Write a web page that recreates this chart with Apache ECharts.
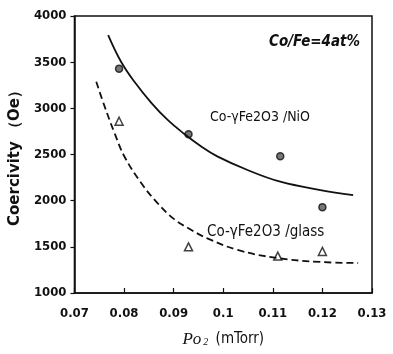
<!DOCTYPE html>
<html>
<head>
<meta charset="utf-8">
<script src="https://cdn.jsdelivr.net/npm/echarts@6/dist/echarts.min.js"></script>
<style>
  html, body {margin: 0; padding: 0; background: #fff;}
  #chart {width: 393px; height: 354px;}
</style>
</head>
<body>
<div id="chart"></div>
<script>
// measured points
const nioX = [0.079, 0.093, 0.1115, 0.12];
const nioY = [3430, 2720, 2480, 1930];
const glassX = [0.079, 0.093, 0.111, 0.12];
const glassY = [2860, 1500, 1400, 1450];

// fitted curves
const nioFitX = [0.0768, 0.0794, 0.0821, 0.0855, 0.0888, 0.0921, 0.0955, 0.0988, 0.1049, 0.1115, 0.1196, 0.1262];
const nioFitY = [3794, 3505, 3288, 3060, 2874, 2725, 2590, 2480, 2332, 2205, 2115, 2061];
const glassFitX = [0.0744, 0.0761, 0.0781, 0.0801, 0.0835, 0.0868, 0.0901, 0.0935, 0.0968, 0.1029, 0.1109, 0.1196, 0.1272];
const glassFitY = [3288, 3018, 2730, 2476, 2188, 1971, 1800, 1685, 1592, 1466, 1379, 1336, 1325];

const xTicks = {min: 0.07, max: 0.13, interval: 0.01};
const yTicks = {min: 1000, max: 4000, interval: 500};

const zip = (xs, ys) => xs.map((x, i) => [x, ys[i]]);

const font = "'Liberation Sans Narrow', 'DejaVu Sans Condensed', 'Liberation Sans', sans-serif";
const chart = echarts.init(document.getElementById('chart'));

chart.setOption({
  animation: false,
  grid: {
    left: 73, right: 21, top: 16, bottom: 61,
    show: true,
    borderColor: '#111',
    borderWidth: 1.5,
  },
  xAxis: {
    type: 'value',
    ...xTicks,
    name: '{it|Po}{sub|2} {n|(mTorr)}',
    nameLocation: 'middle',
    nameGap: 38,
    nameTextStyle: {
      rich: {
        it: {fontFamily: "'Liberation Serif', serif", fontStyle: 'italic', fontSize: 17, color: '#111'},
        sub: {fontFamily: "'Liberation Serif', serif", fontStyle: 'italic', fontSize: 10, color: '#111', padding: [6, 4, 0, 2]},
        n: {fontFamily: font, fontSize: 15, color: '#111'},
      },
    },
    axisLine: {lineStyle: {color: '#111', width: 1.5}},
    axisTick: {inside: true, length: 5, lineStyle: {color: '#111', width: 1.2}},
    axisLabel: {color: '#111', fontFamily: font, fontWeight: 'bold', fontSize: 13, margin: 14},
    splitLine: {show: false},
  },
  yAxis: {
    type: 'value',
    ...yTicks,
    name: 'Coercivity （Oe）',
    nameLocation: 'middle',
    nameGap: 46,
    nameTextStyle: {color: '#111', fontFamily: 'DejaVu Sans, sans-serif', fontSize: 15, fontWeight: 'bold'},
    axisLine: {lineStyle: {color: '#111', width: 1.5}},
    axisTick: {length: 4, lineStyle: {color: '#111', width: 1.2}},
    axisLabel: {
      color: '#111', fontFamily: font, fontWeight: 'bold', fontSize: 13, margin: 8,
      formatter: (v) => String(v),
    },
    splitLine: {show: false},
  },
  series: [
    {
      name: 'NiO fit',
      type: 'line',
      smooth: 0.4,
      showSymbol: false,
      lineStyle: {color: '#111', width: 1.8},
      data: zip(nioFitX, nioFitY),
    },
    {
      name: 'glass fit',
      type: 'line',
      smooth: 0.4,
      showSymbol: false,
      lineStyle: {color: '#111', width: 1.8, type: [7, 4]},
      data: zip(glassFitX, glassFitY),
    },
    {
      name: 'Co-γFe2O3/NiO',
      type: 'scatter',
      symbol: 'circle',
      symbolSize: 7,
      itemStyle: {color: '#555', borderColor: '#111', borderWidth: 1.5},
      data: zip(nioX, nioY),
    },
    {
      name: 'Co-γFe2O3/glass',
      type: 'scatter',
      symbol: 'triangle',
      symbolSize: 8,
      itemStyle: {color: '#fff', borderColor: '#111', borderWidth: 1.5},
      data: zip(glassX, glassY),
    },
  ],
  graphic: [
    {
      type: 'text', left: 269, top: 35,
      style: {text: 'Co/Fe=4at%', font: `italic bold 15px ${font}`, fill: '#111'},
    },
    {
      type: 'text', left: 210, top: 110,
      style: {text: 'Co-γFe2O3 /NiO', font: `14px ${font}`, fill: '#111'},
    },
    {
      type: 'text', left: 207, top: 225,
      style: {text: 'Co-γFe2O3 /glass', font: `15px ${font}`, fill: '#111'},
    },
  ],
});
</script>
</body>
</html>
